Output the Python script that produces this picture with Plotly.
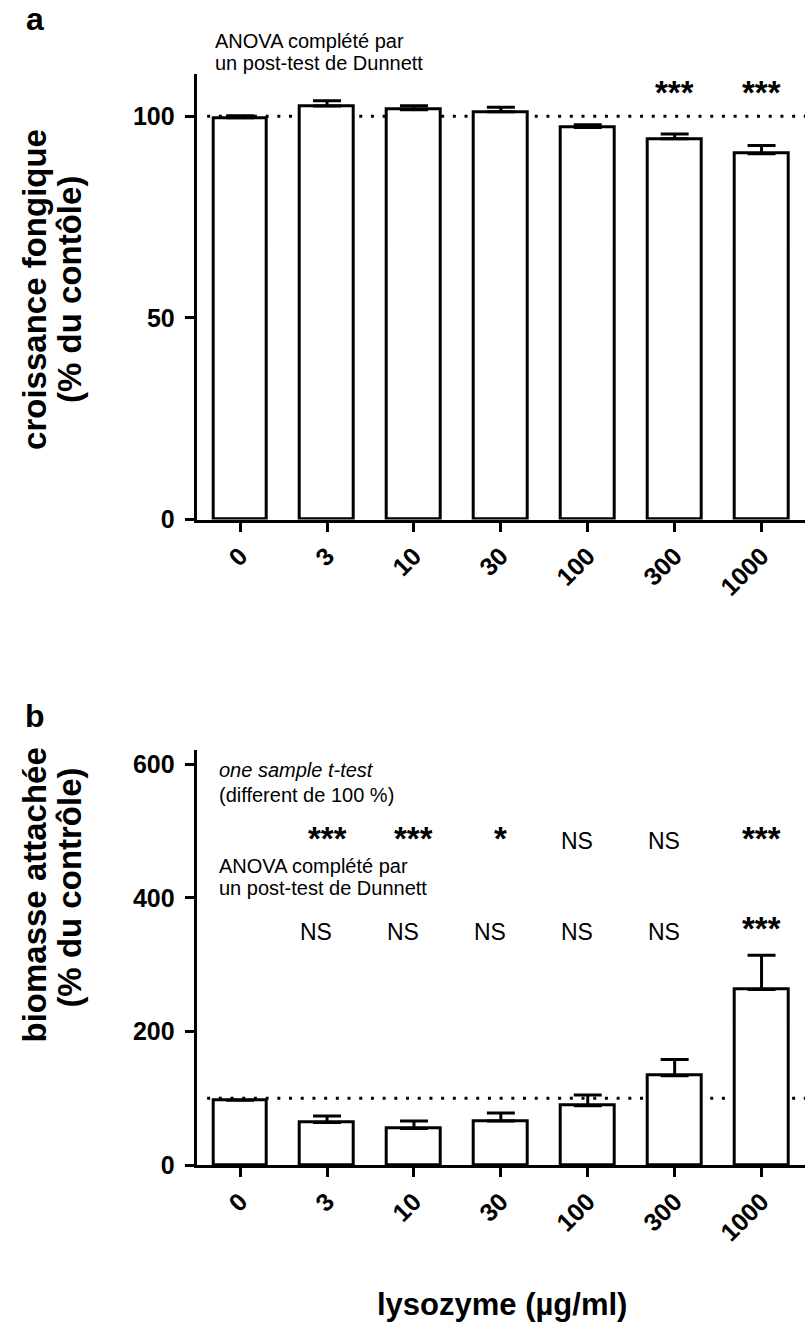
import plotly.graph_objects as go

# Lysozyme concentrations (µg/ml)
doses = ["0", "3", "10", "30", "100", "300", "1000"]

# Panel a: fungal growth (% of control), mean and SEM
growth_mean = [99.6, 102.5, 101.6, 101.1, 97.2, 94.4, 90.7]
growth_sem = [0.5, 1.3, 1.0, 1.1, 0.7, 1.2, 2.0]
growth_sig = ["", "", "", "", "", "***", "***"]

# Panel b: attached biomass (% of control), mean and SEM
biomass_mean = [97, 64, 55, 66, 89, 134, 263]
biomass_sem = [0, 9.5, 11, 12, 16, 24, 51]
ttest_sig = ["", "***", "***", "*", "NS", "NS", "***"]
dunnett_sig = ["", "NS", "NS", "NS", "NS", "NS", "***"]

W, H = 805, 1338
FONT = "Liberation Sans, Arial, Helvetica, sans-serif"


def fx(xpx):
    return xpx / W


def fy(ypx):
    return 1 - ypx / H


fig = go.Figure()

bar_style = dict(color="white", line=dict(color="black", width=3))


def err(vals):
    return dict(type="data", array=vals, arrayminus=[0] * len(vals),
                symmetric=False, color="black", thickness=3, width=14)


fig.add_trace(go.Bar(x=doses, y=growth_mean, marker=bar_style, width=0.62,
                     error_y=err(growth_sem), xaxis="x", yaxis="y",
                     showlegend=False, hoverinfo="skip"))
fig.add_trace(go.Bar(x=doses, y=biomass_mean, marker=bar_style, width=0.62,
                     error_y=err(biomass_sem), xaxis="x2", yaxis="y2",
                     showlegend=False, hoverinfo="skip"))

tickfont = dict(family=FONT, size=25, color="black", weight="bold")
xdom = [fx(196.7), 1.0]

axis_common = dict(showline=True, linewidth=3, linecolor="black",
                   ticks="outside", ticklen=9, tickwidth=3, tickcolor="black",
                   showgrid=False, zeroline=False, tickfont=tickfont)

fig.update_layout(
    width=W, height=H,
    margin=dict(l=0, r=0, t=0, b=0),
    paper_bgcolor="white", plot_bgcolor="white",
    bargap=0,
    xaxis=dict(domain=xdom, anchor="y", range=[-0.5, 6.5], tickangle=-45,
               type="category", **axis_common),
    yaxis=dict(domain=[fy(525), fy(75)], anchor="x", range=[0, 110.4],
               tickvals=[0, 50, 100], ticklabelstandoff=5, **axis_common),
    xaxis2=dict(domain=xdom, anchor="y2", range=[-0.5, 6.5], tickangle=-45,
                type="category", **axis_common),
    yaxis2=dict(domain=[fy(1177.5), fy(758.3)], anchor="x2", range=[0, 620.7],
                tickvals=[0, 200, 400, 600], ticklabelstandoff=5, **axis_common),
)

# Dotted 100 % reference lines behind the bars
for xr, yr in (("x", "y"), ("x2", "y2")):
    fig.add_shape(type="line", xref=xr, yref=yr, x0=-0.38, x1=6.5, y0=100, y1=100,
                  line=dict(color="black", width=3, dash="3px,8.7px"), layer="below")

ann = []


def text(x, y, s, size, xref="paper", xanchor="center", bold=False, angle=0):
    ann.append(dict(x=x, y=y, xref=xref, yref="paper", text=s, showarrow=False,
                    xanchor=xanchor, yanchor="middle", textangle=angle,
                    font=dict(family=FONT, size=size, color="black",
                              weight="bold" if bold else "normal")))


# Panel letters
text(fx(35), fy(19), "a", 32, bold=True)
text(fx(35), fy(724), "b", 32, bold=True)

# Axis titles
text(fx(35), fy(293), "croissance fongique", 33, bold=True, angle=-90)
text(fx(70), fy(293), "(% du contôle)", 33, bold=True, angle=-90)
text(fx(35), fy(905), "biomasse attachée", 33, bold=True, angle=-90)
text(fx(70), fy(897), "(% du contrôle)", 33, bold=True, angle=-90)
text(fx(502), fy(1318), "lysozyme (µg/ml)", 31, bold=True)

# Panel a statistics
text(fx(213), fy(41.7), "ANOVA complété par", 20, xanchor="left")
text(fx(213), fy(63.3), "un post-test de Dunnett", 20, xanchor="left")


def sig_row(labels, xref, ycenter):
    # category axes take the serial index of the category as annotation x
    for i, s in enumerate(labels):
        if not s:
            continue
        if s == "NS":
            ann.append(dict(x=i, y=fy(ycenter + 10), xref=xref, yref="paper", text=s,
                            showarrow=False, xanchor="center", yanchor="middle",
                            xshift=-11,
                            font=dict(family=FONT, size=23, color="black")))
        else:
            # short box hugging the raised asterisk glyphs
            ann.append(dict(x=i, y=fy(ycenter - 1), xref=xref, yref="paper", text=s,
                            showarrow=False, xanchor="center", yanchor="middle",
                            height=21, valign="top",
                            font=dict(family=FONT, size=33, color="black",
                                      weight="bold")))


sig_row(growth_sig, "x", 86.7)

# Panel b statistics
text(fx(216.7), fy(778), "<i>one sample t-test</i>", 20, xanchor="left")
text(fx(216.7), fy(803), "(different de 100 %)", 20, xanchor="left")
sig_row(ttest_sig, "x2", 840)
text(fx(216.7), fy(875.5), "ANOVA complété par", 20, xanchor="left")
text(fx(216.7), fy(897.2), "un post-test de Dunnett", 20, xanchor="left")
sig_row(dunnett_sig, "x2", 931.7)

fig.update_layout(annotations=ann)

fig.write_html("out.html")
